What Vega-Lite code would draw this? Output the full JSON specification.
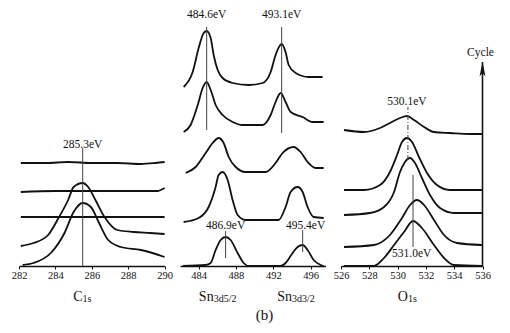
{
"$schema": "https://vega.github.io/schema/vega-lite/v6.json",
"padding": {"left": 11, "top": 9, "right": 0, "bottom": 0},
"background": "white",
"bounds": "flush",
"spacing": 15,
"title": {"text": "(b)", "orient": "bottom", "anchor": "middle", "fontSize": 15, "font": "Liberation Serif", "fontWeight": "normal", "color": "#111", "offset": 4, "dx": 12},
"config": {
  "view": {"stroke": null},
  "axis": {"domainColor": "#111", "domainWidth": 1.6, "tickColor": "#111", "tickSize": 3, "labelFont": "Liberation Serif", "labelFontSize": 10.5, "labelColor": "#111", "labelPadding": 1, "labelFlush": false, "labelOverlap": false, "labelBound": false, "grid": false, "title": null},
  "axisX": {"labelOverlap": false},
  "axisQuantitative": {"labelOverlap": false},
  "text": {"font": "Liberation Serif", "color": "#111"}
},
"hconcat": [
{
  "width": 145.6, "height": 256,
  "encoding": {
    "x": {"field": "e", "type": "quantitative", "scale": {"domain": [282, 290], "nice": false, "zero": false}, "axis": {"values": [282, 284, 286, 288, 290], "labelOverlap": false, "labelFlush": false}},
    "y": {"field": "i", "type": "quantitative", "scale": {"domain": [0, 256], "nice": false}, "axis": null}
  },
  "layer": [
    {"data": {"values": [
      {"e":282.1,"i":103,"c":1},{"e":283.5,"i":103,"c":1},{"e":284.7,"i":104,"c":1},{"e":286,"i":103,"c":1},{"e":287.4,"i":103,"c":1},{"e":288.7,"i":102,"c":1},{"e":289.5,"i":103,"c":1},{"e":290,"i":104,"c":1},
      {"e":282.1,"i":74,"c":2},{"e":284,"i":75,"c":2},{"e":286,"i":75,"c":2},{"e":288,"i":75,"c":2},{"e":289.6,"i":75,"c":2},{"e":290,"i":78,"c":2},
      {"e":282.1,"i":49,"c":3},{"e":284,"i":49,"c":3},{"e":286,"i":49,"c":3},{"e":288,"i":49,"c":3},{"e":290,"i":49,"c":3},
      {"e":282.1,"i":20,"c":4},{"e":282.8,"i":23,"c":4},{"e":283.6,"i":31,"c":4},{"e":284.2,"i":49,"c":4},{"e":284.7,"i":66,"c":4},{"e":285.0,"i":79,"c":4},{"e":285.5,"i":83,"c":4},{"e":285.8,"i":79,"c":4},{"e":286.2,"i":66,"c":4},{"e":286.7,"i":49,"c":4},{"e":287.4,"i":36,"c":4},{"e":288.3,"i":34,"c":4},{"e":289.2,"i":33,"c":4},{"e":290,"i":32,"c":4},
      {"e":282.2,"i":1,"c":5},{"e":282.8,"i":3,"c":5},{"e":283.75,"i":13,"c":5},{"e":284.5,"i":33,"c":5},{"e":285.0,"i":54,"c":5},{"e":285.5,"i":63,"c":5},{"e":285.95,"i":59,"c":5},{"e":286.4,"i":43,"c":5},{"e":286.9,"i":26,"c":5},{"e":287.6,"i":19,"c":5},{"e":288.7,"i":16,"c":5},{"e":290,"i":9,"c":5}
    ]},
    "mark": {"type": "line", "interpolate": "monotone", "color": "#111", "strokeWidth": 1.8},
    "encoding": {"detail": {"field": "c"}}},
    {"data": {"values": [{"e": 285.5, "i": 0, "i2": 118}]},
     "mark": {"type": "rule", "color": "#444", "strokeWidth": 1},
     "encoding": {"y2": {"field": "i2"}}},
    {"data": {"values": [{"e": 285.5, "i": 121, "t": "285.3eV"}]},
     "mark": {"type": "text", "fontSize": 11.5, "baseline": "middle"},
     "encoding": {"text": {"field": "t"}}},
    {"data": {"values": [{"e": 285.49, "i": -31, "t": "C", "s": "1s"}]},
     "layer": [
       {"mark": {"type": "text", "fontSize": 14, "align": "right", "baseline": "middle"}, "encoding": {"text": {"field": "t"}}},
       {"mark": {"type": "text", "fontSize": 10, "align": "left", "baseline": "middle", "dy": 2}, "encoding": {"text": {"field": "s"}}}
     ]}
  ]
},
{
  "width": 145.5, "height": 256,
  "encoding": {
    "x": {"field": "e", "type": "quantitative", "scale": {"domain": [482, 497.6], "nice": false, "zero": false}, "axis": {"values": [484, 488, 492, 496], "labelOverlap": false, "labelFlush": false}},
    "y": {"field": "i", "type": "quantitative", "scale": {"domain": [0, 256], "nice": false}, "axis": null}
  },
  "layer": [
    {"data": {"values": [
      {"e":482.39,"i":179,"c":1},{"e":483.36,"i":194,"c":1},{"e":484.0,"i":218,"c":1},{"e":484.54,"i":233,"c":1},{"e":484.86,"i":235,"c":1},{"e":485.29,"i":228,"c":1},{"e":485.61,"i":211,"c":1},{"e":486.04,"i":196,"c":1},{"e":486.57,"i":188,"c":1},{"e":487.64,"i":183,"c":1},{"e":489.36,"i":181,"c":1},{"e":490.86,"i":183,"c":1},{"e":491.72,"i":194,"c":1},{"e":492.25,"i":211,"c":1},{"e":492.68,"i":220,"c":1},{"e":492.9,"i":222,"c":1},{"e":493.32,"i":214,"c":1},{"e":493.65,"i":201,"c":1},{"e":494.4,"i":193,"c":1},{"e":495.79,"i":189,"c":1},{"e":497.29,"i":189,"c":1},
      {"e":482.39,"i":134,"c":2},{"e":483.14,"i":141,"c":2},{"e":483.9,"i":161,"c":2},{"e":484.43,"i":178,"c":2},{"e":484.86,"i":184,"c":2},{"e":485.29,"i":176,"c":2},{"e":485.82,"i":161,"c":2},{"e":486.57,"i":151,"c":2},{"e":487.64,"i":144,"c":2},{"e":488.72,"i":141,"c":2},{"e":490.86,"i":141,"c":2},{"e":491.72,"i":151,"c":2},{"e":492.25,"i":164,"c":2},{"e":492.79,"i":173,"c":2},{"e":493.32,"i":164,"c":2},{"e":493.86,"i":154,"c":2},{"e":495.15,"i":149,"c":2},{"e":496.22,"i":144,"c":2},{"e":497.4,"i":144,"c":2},
      {"e":482.61,"i":93,"c":3},{"e":483.68,"i":99,"c":3},{"e":484.75,"i":113,"c":3},{"e":485.5,"i":123,"c":3},{"e":486.14,"i":128,"c":3},{"e":486.68,"i":123,"c":3},{"e":487.22,"i":109,"c":3},{"e":487.97,"i":99,"c":3},{"e":489.04,"i":94,"c":3},{"e":491.18,"i":94,"c":3},{"e":492.25,"i":103,"c":3},{"e":493.0,"i":113,"c":3},{"e":494.18,"i":119,"c":3},{"e":494.93,"i":114,"c":3},{"e":495.68,"i":104,"c":3},{"e":496.54,"i":98,"c":3},{"e":497.4,"i":98,"c":3},
      {"e":482.39,"i":44,"c":4},{"e":484.0,"i":48,"c":4},{"e":485.07,"i":59,"c":4},{"e":485.82,"i":79,"c":4},{"e":486.14,"i":91,"c":4},{"e":486.57,"i":94,"c":4},{"e":487.11,"i":86,"c":4},{"e":487.64,"i":66,"c":4},{"e":488.18,"i":51,"c":4},{"e":489.04,"i":46,"c":4},{"e":492.57,"i":46,"c":4},{"e":493.32,"i":59,"c":4},{"e":493.86,"i":74,"c":4},{"e":494.61,"i":79,"c":4},{"e":495.15,"i":74,"c":4},{"e":495.68,"i":59,"c":4},{"e":496.33,"i":49,"c":4},{"e":497.4,"i":48,"c":4},
      {"e":482.3,"i":0,"c":5},{"e":484.75,"i":1,"c":5},{"e":485.29,"i":3,"c":5},{"e":485.82,"i":16,"c":5},{"e":486.36,"i":26,"c":5},{"e":486.9,"i":29,"c":5},{"e":487.43,"i":26,"c":5},{"e":488.18,"i":13,"c":5},{"e":488.82,"i":3,"c":5},{"e":489.36,"i":0,"c":5},{"e":492.79,"i":0,"c":5},{"e":493.32,"i":3,"c":5},{"e":494.07,"i":13,"c":5},{"e":494.61,"i":19,"c":5},{"e":495.15,"i":21,"c":5},{"e":495.68,"i":16,"c":5},{"e":496.33,"i":6,"c":5},{"e":497.08,"i":1,"c":5},{"e":497.4,"i":0,"c":5}
    ]},
    "mark": {"type": "line", "interpolate": "monotone", "color": "#111", "strokeWidth": 1.8},
    "encoding": {"detail": {"field": "c"}}},
    {"data": {"values": [{"e": 484.86, "i": 136, "i2": 239}, {"e": 492.9, "i": 133, "i2": 239}, {"e": 486.89, "i": 8, "i2": 35}, {"e": 495.15, "i": 14, "i2": 36}]},
     "mark": {"type": "rule", "color": "#444", "strokeWidth": 1},
     "encoding": {"y2": {"field": "i2"}}},
    {"data": {"values": [{"e": 484.86, "i": 251, "t": "484.6eV"}, {"e": 492.9, "i": 251, "t": "493.1eV"}, {"e": 486.89, "i": 40, "t": "486.9eV"}, {"e": 495.47, "i": 40, "t": "495.4eV"}]},
     "mark": {"type": "text", "fontSize": 11.5, "baseline": "middle"},
     "encoding": {"text": {"field": "t"}}},
    {"data": {"values": [{"e": 485.61, "i": -31, "t": "Sn", "s": "3d5/2"}, {"e": 494.0, "i": -31, "t": "Sn", "s": "3d3/2"}]},
     "layer": [
       {"mark": {"type": "text", "fontSize": 14, "align": "right", "baseline": "middle"}, "encoding": {"text": {"field": "t"}}},
       {"mark": {"type": "text", "fontSize": 10, "align": "left", "baseline": "middle", "dy": 2}, "encoding": {"text": {"field": "s"}}}
     ]}
  ]
},
{
  "width": 141.5, "height": 256,
  "encoding": {
    "x": {"field": "e", "type": "quantitative", "scale": {"domain": [526, 536], "nice": false, "zero": false}, "axis": {"values": [526, 528, 530, 532, 534, 536], "labelOverlap": false, "labelFlush": false}},
    "y": {"field": "i", "type": "quantitative", "scale": {"domain": [0, 256], "nice": false}, "axis": null}
  },
  "layer": [
    {"data": {"values": [
      {"e":526.21,"i":136,"c":1},{"e":527.63,"i":134,"c":1},{"e":528.76,"i":138,"c":1},{"e":529.46,"i":143,"c":1},{"e":530.17,"i":148,"c":1},{"e":530.66,"i":150,"c":1},{"e":531.16,"i":146,"c":1},{"e":531.87,"i":139,"c":1},{"e":532.57,"i":134,"c":1},{"e":533.7,"i":133,"c":1},{"e":535.12,"i":132,"c":1},{"e":535.96,"i":132,"c":1},
      {"e":526.21,"i":76,"c":2},{"e":527.63,"i":76,"c":2},{"e":528.76,"i":81,"c":2},{"e":529.46,"i":94,"c":2},{"e":529.96,"i":111,"c":2},{"e":530.31,"i":124,"c":2},{"e":530.66,"i":128,"c":2},{"e":531.02,"i":124,"c":2},{"e":531.51,"i":109,"c":2},{"e":532.08,"i":93,"c":2},{"e":532.78,"i":81,"c":2},{"e":533.7,"i":76,"c":2},{"e":535.96,"i":76,"c":2},
      {"e":526.21,"i":51,"c":3},{"e":528.05,"i":53,"c":3},{"e":529.04,"i":59,"c":3},{"e":529.75,"i":74,"c":3},{"e":530.17,"i":94,"c":3},{"e":530.52,"i":104,"c":3},{"e":530.88,"i":108,"c":3},{"e":531.23,"i":103,"c":3},{"e":531.72,"i":88,"c":3},{"e":532.29,"i":71,"c":3},{"e":533.0,"i":58,"c":3},{"e":533.99,"i":53,"c":3},{"e":535.96,"i":53,"c":3},
      {"e":526.21,"i":19,"c":4},{"e":528.33,"i":21,"c":4},{"e":529.46,"i":31,"c":4},{"e":530.31,"i":48,"c":4},{"e":530.88,"i":61,"c":4},{"e":531.37,"i":66,"c":4},{"e":531.87,"i":61,"c":4},{"e":532.57,"i":46,"c":4},{"e":533.28,"i":31,"c":4},{"e":534.2,"i":23,"c":4},{"e":535.96,"i":21,"c":4},
      {"e":526.21,"i":0,"c":5},{"e":528.33,"i":0,"c":5},{"e":529.04,"i":8,"c":5},{"e":529.75,"i":21,"c":5},{"e":530.45,"i":34,"c":5},{"e":531.09,"i":45,"c":5},{"e":531.72,"i":38,"c":5},{"e":532.57,"i":21,"c":5},{"e":533.28,"i":8,"c":5},{"e":533.99,"i":1,"c":5},{"e":535.96,"i":0,"c":5}
    ]},
    "mark": {"type": "line", "interpolate": "monotone", "color": "#111", "strokeWidth": 1.8},
    "encoding": {"detail": {"field": "c"}}},
    {"data": {"values": [{"e": 530.73, "i": 106, "i2": 159}]},
     "mark": {"type": "rule", "color": "#444", "strokeWidth": 1, "strokeDash": [5, 2, 1, 2]},
     "encoding": {"y2": {"field": "i2"}}},
    {"data": {"values": [{"e": 531.09, "i": 19, "i2": 91}]},
     "mark": {"type": "rule", "color": "#444", "strokeWidth": 1},
     "encoding": {"y2": {"field": "i2"}}},
    {"data": {"values": [{"e": 536, "i": 0, "i2": 204}]},
     "mark": {"type": "rule", "color": "#111", "strokeWidth": 1.6},
     "encoding": {"y2": {"field": "i2"}}},
    {"data": {"values": [{"e": 536, "i": 197}]},
     "mark": {"type": "point", "shape": "M0,-1L0.4,1L0,0.55L-0.4,1Z", "filled": true, "color": "#111", "size": 220, "opacity": 1},
     "encoding": {}},
    {"data": {"values": [{"e": 530.66, "i": 164, "t": "530.1eV"}, {"e": 531.0, "i": 12, "t": "531.0eV"}, {"e": 535.86, "i": 213, "t": "Cycle"}]},
     "mark": {"type": "text", "fontSize": 11.5, "baseline": "middle"},
     "encoding": {"text": {"field": "t"}}},
    {"data": {"values": [{"e": 530.73, "i": -31, "t": "O", "s": "1s"}]},
     "layer": [
       {"mark": {"type": "text", "fontSize": 14, "align": "right", "baseline": "middle"}, "encoding": {"text": {"field": "t"}}},
       {"mark": {"type": "text", "fontSize": 10, "align": "left", "baseline": "middle", "dy": 2}, "encoding": {"text": {"field": "s"}}}
     ]}
  ]
}
]
}
